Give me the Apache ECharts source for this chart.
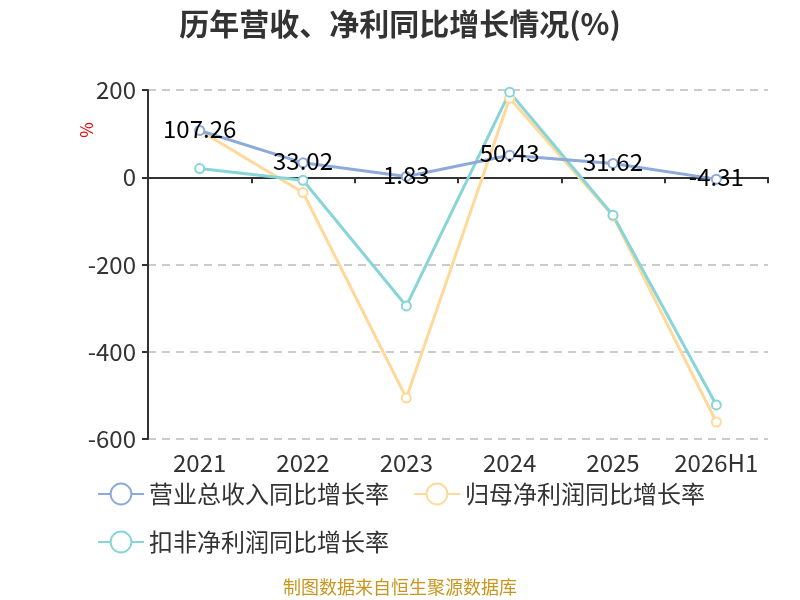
<!DOCTYPE html>
<html>
<head>
<meta charset="utf-8">
<script src="https://cdn.jsdelivr.net/npm/echarts@6/dist/echarts.min.js"></script>
<style>
html, body { margin: 0; padding: 0; background: #fff; }
#chart { width: 800px; height: 600px; }
</style>
</head>
<body>
<div id="chart"></div>
<script>
var years = ['2021', '2022', '2023', '2024', '2025', '2026H1'];
var revenueGrowth = [107.26, 33.02, 1.83, 50.43, 31.62, -4.31];
var profitGrowth = [107, -35, -506, 181, -89, -561];
var deductedGrowth = [20, -7, -295, 195, -87, -522];
var yTicks = { min: -600, max: 200, interval: 200 };

var chart = echarts.init(document.getElementById('chart'));
var fontFamily = '"Noto Sans CJK SC", "Noto Sans", sans-serif';

function lineSeries(name, data, color, showLabel) {
    return {
        name: name,
        type: 'line',
        xAxisIndex: 0,
        data: data,
        symbol: 'emptyCircle',
        symbolSize: 9,
        lineStyle: { width: 3, color: color },
        itemStyle: { color: color, borderWidth: 2 },
        label: {
            show: showLabel,
            position: 'inside',
            offset: [0, -2],
            color: '#000',
            fontSize: 24,
            fontFamily: fontFamily
        },
        z: showLabel ? 3 : 2
    };
}

var option = {
    backgroundColor: '#fff',
    textStyle: { fontFamily: fontFamily },
    title: {
        text: '历年营收、净利同比增长情况(%)',
        left: 'center',
        top: 4,
        textStyle: { fontSize: 30, fontWeight: 'bold', color: '#333', fontFamily: fontFamily }
    },
    grid: { left: 148, right: 32, top: 90, bottom: 161, outerBoundsMode: 'none' },
    legend: {
        left: 92,
        top: 477,
        width: 690,
        itemWidth: 46,
        itemHeight: 26,
        itemGap: 24,
        textStyle: { fontSize: 24, color: '#333', fontFamily: fontFamily },
        data: ['营业总收入同比增长率', '归母净利润同比增长率', '扣非净利润同比增长率']
    },
    xAxis: [
        {
            // axis line and ticks through zero
            type: 'category',
            data: years,
            boundaryGap: true,
            axisLine: { onZero: true, lineStyle: { color: '#333', width: 2 } },
            axisTick: { show: true, length: 6, lineStyle: { color: '#333', width: 2 } },
            axisLabel: { show: false }
        },
        {
            // category labels along the bottom
            type: 'category',
            data: years,
            position: 'bottom',
            boundaryGap: true,
            axisLine: { show: false },
            axisTick: { show: false },
            axisLabel: {
                color: '#333',
                fontSize: 24,
                interval: 0,
                margin: 12,
                fontFamily: fontFamily
            }
        }
    ],
    yAxis: {
        type: 'value',
        min: yTicks.min,
        max: yTicks.max,
        interval: yTicks.interval,
        axisLine: { show: true, lineStyle: { color: '#333', width: 2 } },
        axisTick: { show: true, length: 6, lineStyle: { color: '#333', width: 2 } },
        axisLabel: { color: '#333', fontSize: 24, margin: 12, fontFamily: fontFamily },
        splitLine: { lineStyle: { type: [8, 6], color: '#bbb', width: 1.5 } }
    },
    graphic: [
        {
            type: 'text',
            left: 78,
            top: 122,
            rotation: Math.PI / 2,
            style: { text: '%', fill: '#e00', fontSize: 17, fontFamily: fontFamily }
        },
        {
            type: 'text',
            left: 'center',
            top: 578,
            style: { text: '制图数据来自恒生聚源数据库', fill: '#c8961e', fontSize: 18, fontFamily: fontFamily }
        }
    ],
    series: [
        lineSeries('营业总收入同比增长率', revenueGrowth, '#8eaadb', true),
        lineSeries('归母净利润同比增长率', profitGrowth, '#ffd99a', false),
        lineSeries('扣非净利润同比增长率', deductedGrowth, '#87d5d8', false)
    ]
};

chart.setOption(option);
</script>
</body>
</html>
